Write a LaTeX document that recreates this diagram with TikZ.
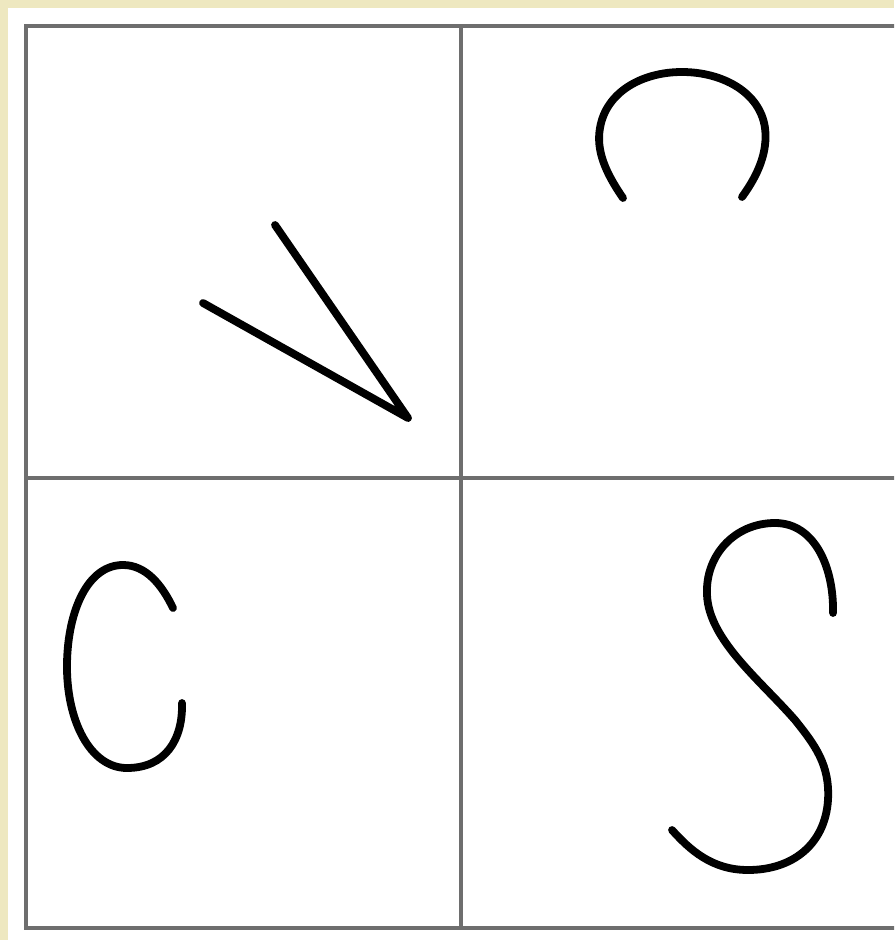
\documentclass[tikz,border=0pt]{standalone}
\definecolor{cream}{RGB}{238,232,192}
\definecolor{gridgray}{RGB}{110,110,110}
\tikzset{
  gridline/.style={draw=gridgray, line width=1.7pt},
  stroke/.style={draw=black, line width=3.9pt, line cap=round, line join=round}
}
\begin{document}
\begin{tikzpicture}[x=0.5pt, y=-0.5pt]
\useasboundingbox (0,0) rectangle (894,940);
\clip (0,0) rectangle (894,940);
\fill[cream] (0,0) rectangle (894,940);
\fill[white] (8,8) rectangle (900,945);
% grid
\draw[gridline] (26,26) rectangle (902,928);
\draw[gridline] (461,26) -- (461,928);
\draw[gridline] (26,478) -- (902,478);
% V shape
\coordinate (va) at (275,225);
\coordinate (vt) at (408,418);
\coordinate (vb) at (203,303);
\draw[stroke] (va) -- (vt) -- (vb);
% upside-down C (top right)
\draw[stroke] (623,198) .. controls (605,172) and (596,150) .. (600,128)
  .. controls (606,92) and (642,72) .. (682,72)
  .. controls (722,72) and (760,92) .. (765,128)
  .. controls (768,152) and (758,175) .. (742,197);
% C (bottom left)
\draw[stroke] (173,608) .. controls (162,585) and (146,565) .. (123,565)
  .. controls (88,565) and (68,610) .. (67,663)
  .. controls (66,720) and (90,768) .. (127,768)
  .. controls (165,768) and (183,740) .. (182,703);
% S (bottom right)
\draw[stroke] (833,613) .. controls (834,568) and (815,523) .. (775,523)
  .. controls (735,523) and (705,555) .. (707,595)
  .. controls (709,640) and (760,680) .. (795,720)
  .. controls (815,745) and (830,765) .. (828,800)
  .. controls (825,845) and (792,870) .. (748,870)
  .. controls (712,870) and (690,850) .. (672,830);
\end{tikzpicture}
\end{document}
